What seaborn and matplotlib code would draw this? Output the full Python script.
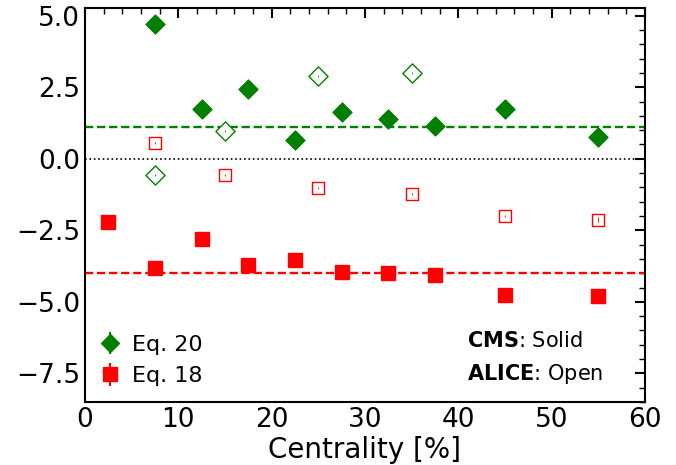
import numpy as np
import pandas as pd
import matplotlib
matplotlib.use("Agg")
import matplotlib.pyplot as plt
import seaborn as sns

# Data
cms_x = [7.5, 12.5, 17.5, 22.5, 27.5, 32.5, 37.5, 45, 55]
cms_eq20 = [4.72, 1.75, 2.44, 0.67, 1.62, 1.40, 1.13, 1.75, 0.77]
cms_eq20_err = [0.08, 0.08, 0.08, 0.08, 0.08, 0.08, 0.08, 0.08, 0.08]

cms18_x = [2.5, 7.5, 12.5, 17.5, 22.5, 27.5, 32.5, 37.5, 45, 55]
cms_eq18 = [-2.2, -3.8, -2.79, -3.7, -3.53, -3.95, -3.98, -4.05, -4.75, -4.78]
cms_eq18_err = [0.08] * 10

alice20_x = [7.5, 15, 25, 35]
alice_eq20 = [-0.56, 0.98, 2.9, 3.0]
alice_eq20_err = [0.04, 0.04, 0.04, 0.04]

alice18_x = [7.5, 15, 25, 35, 45, 55]
alice_eq18 = [0.56, -0.56, -1.01, -1.22, -1.99, -2.13]
alice_eq18_err = [0.04, 0.04, 0.04, 0.04, 0.04, 0.08]

mean_eq20 = 1.12
mean_eq18 = -3.98

sns.set_style("white")
plt.rcParams['font.family'] = ['DejaVu Sans']
plt.rcParams.update({"text.color": "black", "axes.labelcolor": "black",
                     "xtick.color": "black", "ytick.color": "black"})

fig = plt.figure(figsize=(6.76, 4.65), dpi=100)
ax = fig.add_axes([0.1257, 0.1355, 0.8283, 0.848])

green = "green"
red = "red"

# Solid CMS points
sns.scatterplot(x=cms_x, y=cms_eq20, marker="D", s=110, color=green, edgecolor=green, linewidth=0, ax=ax, zorder=3)
sns.scatterplot(x=cms18_x, y=cms_eq18, marker="s", s=95, color=red, edgecolor=red, linewidth=0, ax=ax, zorder=3)
# Open ALICE points
sns.scatterplot(x=alice20_x, y=alice_eq20, marker="D", s=95, facecolor="white", edgecolor=green, linewidth=1.0, ax=ax, zorder=3)
sns.scatterplot(x=alice18_x, y=alice_eq18, marker="s", s=80, facecolor="white", edgecolor=red, linewidth=1.0, ax=ax, zorder=3)

# error bars
h20 = ax.errorbar(cms_x, cms_eq20, yerr=cms_eq20_err, fmt="D", ms=9.5, color=green, label="Eq. 20", zorder=2)
h18 = ax.errorbar(cms18_x, cms_eq18, yerr=cms_eq18_err, fmt="s", ms=9.5, color=red, label="Eq. 18", zorder=2)
ax.errorbar(alice20_x, alice_eq20, yerr=alice_eq20_err, fmt="none", ecolor=green, elinewidth=0.6, zorder=4)
ax.errorbar(alice18_x, alice_eq18, yerr=alice_eq18_err, fmt="none", ecolor=red, elinewidth=0.6, zorder=4)

ax.axhline(mean_eq20, color=green, ls=(0, (3.5, 1.6)), lw=1.7)
ax.axhline(mean_eq18, color=red, ls=(0, (3.5, 1.6)), lw=1.7)
ax.axhline(0, color="black", ls=":", lw=1.2)

ax.set_xlim(0, 60)
ax.set_ylim(-8.5, 5.28)
ax.set_xticks(np.arange(0, 61, 10))
ax.set_yticks([-7.5, -5.0, -2.5, 0.0, 2.5, 5.0])
ax.set_xticks(np.arange(0, 61, 2), minor=True)
ax.set_yticks(np.arange(-8.5, 5.3, 0.5), minor=True)
ax.tick_params(which="major", direction="in", length=7, width=1.5, top=True, right=True, labelsize=19)
ax.tick_params(which="minor", direction="in", length=4, width=1.0, top=True, right=True)
for s in ax.spines.values():
    s.set_linewidth(1.5)
    s.set_color("black")
ax.set_xlabel("Centrality [%]", fontsize=20, labelpad=2)

ax.legend(handles=[h20, h18], loc="lower left", bbox_to_anchor=(-0.011, -0.005), fontsize=16, frameon=False,
          handletextpad=0.4, borderaxespad=0.4, labelspacing=0.5, handlelength=1.2)

ax.text(0.682, 0.155, r"$\bf{CMS}$: Solid", transform=ax.transAxes, fontsize=15, ha="left", va="center")
ax.text(0.682, 0.071, r"$\bf{ALICE}$: Open", transform=ax.transAxes, fontsize=15, ha="left", va="center")

fig.savefig("out.png", dpi=100)
